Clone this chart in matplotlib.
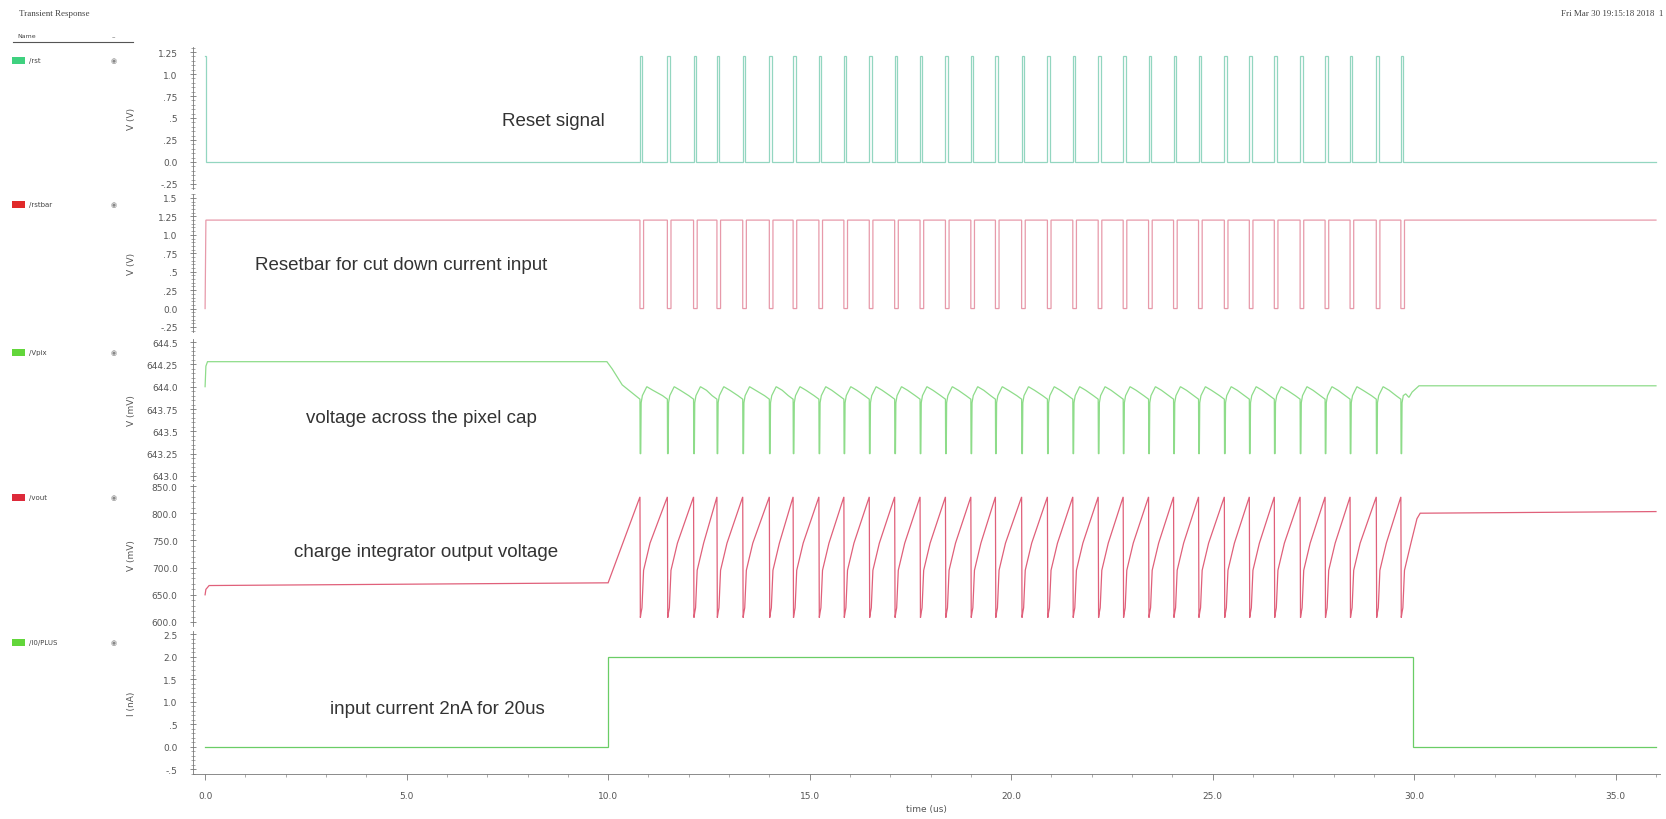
import matplotlib
matplotlib.use("Agg")
import matplotlib.pyplot as plt
from matplotlib.ticker import FixedLocator, AutoMinorLocator, MultipleLocator
from matplotlib.patches import Rectangle
from matplotlib.lines import Line2D

# ---------------- data ----------------
reset_times = [10.79, 11.47, 12.12, 12.70, 13.34, 14.00, 14.59, 15.23, 15.85, 16.48,
               17.11, 17.74, 18.37, 19.00, 19.61, 20.26, 20.90, 21.53, 22.16, 22.78,
               23.41, 24.03, 24.65, 25.29, 25.91, 26.53, 27.17, 27.79, 28.41, 29.06, 29.67]
t_end = 36.0
supply_v = 1.2            # reset / resetbar high level (V)

# pixel-cap voltage levels (mV)
vpix_start, vpix_idle = 644.0, 644.28
vpix_cycle_low, vpix_cycle_peak, vpix_spike = 643.86, 644.0, 643.25
vpix_final = 644.01

# integrator output levels (mV)
vout_start, vout_idle0, vout_idle1 = 650.0, 667.0, 672.0
vout_peak, vout_low, vout_knee, vout_mid = 830.0, 618.0, 695.0, 745.0
vout_final0, vout_final1 = 800.0, 803.0

# input current (nA)
i_on_value = 2.0
i_on_start, i_on_end = 10.0, 29.98

signal_names = ["/rst", "/rstbar", "/Vpix", "/vout", "/I0/PLUS"]
panel_texts = ["Reset signal", "Resetbar for cut down current input",
               "voltage across the pixel cap", "charge integrator output voltage",
               "input current 2nA for 20us"]
y_units = ["V (V)", "V (V)", "V (mV)", "V (mV)", "I (nA)"]
ytick_vals = [[1.25, 1.0, 0.75, 0.5, 0.25, 0.0, -0.25],
              [1.5, 1.25, 1.0, 0.75, 0.5, 0.25, 0.0, -0.25],
              [644.5, 644.25, 644.0, 643.75, 643.5, 643.25, 643.0],
              [850.0, 800.0, 750.0, 700.0, 650.0, 600.0],
              [2.5, 2.0, 1.5, 1.0, 0.5, 0.0, -0.5]]
ytick_labels = [["1.25", "1.0", ".75", ".5", ".25", "0.0", "-.25"],
                ["1.5", "1.25", "1.0", ".75", ".5", ".25", "0.0", "-.25"],
                ["644.5", "644.25", "644.0", "643.75", "643.5", "643.25", "643.0"],
                ["850.0", "800.0", "750.0", "700.0", "650.0", "600.0"],
                ["2.5", "2.0", "1.5", "1.0", ".5", "0.0", "-.5"]]
xtick_vals = [0, 5, 10, 15, 20, 25, 30, 35]
xtick_labels = ["0.0", "5.0", "10.0", "15.0", "20.0", "25.0", "30.0", "35.0"]

# ---------------- build waveforms from the read values ----------------
rst_w, rstb_w = 0.06, 0.09

t_rst, v_rst = [0.0, 0.03, 0.03], [supply_v, supply_v, 0.0]
for tk in reset_times:
    t_rst += [tk, tk, tk + rst_w, tk + rst_w]
    v_rst += [0.0, supply_v, supply_v, 0.0]
t_rst.append(t_end); v_rst.append(0.0)

t_rb, v_rb = [0.0, 0.02], [0.0, supply_v]
for tk in reset_times:
    t_rb += [tk, tk, tk + rstb_w, tk + rstb_w]
    v_rb += [supply_v, 0.0, 0.0, supply_v]
t_rb.append(t_end); v_rb.append(supply_v)

t_px = [0.0, 0.02, 0.06, 9.97, 10.1, 10.35, reset_times[0]]
v_px = [vpix_start, vpix_idle - 0.05, vpix_idle, vpix_idle, vpix_idle - 0.08, 644.02, vpix_cycle_low]
for k, tk in enumerate(reset_times):
    t_px += [tk + 0.005, tk + 0.02, tk + 0.03, tk + 0.06]
    v_px += [vpix_spike, vpix_spike, 643.82, 643.9]
    if k + 1 < len(reset_times):
        tn = reset_times[k + 1]
        t_px += [tk + 0.17, tk + 0.32, tn - 0.12, tn]
        v_px += [vpix_cycle_peak, 643.96, 643.9, vpix_cycle_low]
t_px += [tk + 0.12, tk + 0.2, tk + 0.28, tk + 0.45, t_end]
v_px += [643.92, 643.88, 643.94, vpix_final, vpix_final]

t_vo = [0.0, 0.02, 0.1, i_on_start, reset_times[0]]
v_vo = [vout_start, 660.0, vout_idle0, vout_idle1, vout_peak]
for k, tk in enumerate(reset_times):
    t_vo += [tk + 0.01, tk + 0.03, tk + 0.05, tk + 0.09, tk + 0.25]
    v_vo += [vout_low - 10, vout_low, vout_low + 8, vout_knee, vout_mid]
    if k + 1 < len(reset_times):
        tn = reset_times[k + 1]
        t_vo += [tn]
        v_vo += [vout_peak]
t_vo += [tk + 0.4, tk + 0.48, t_end]
v_vo += [790.0, vout_final0, vout_final1]

t_i = [0.0, i_on_start, i_on_start, i_on_end, i_on_end, t_end]
v_i = [0.0, 0.0, i_on_value, i_on_value, 0.0, 0.0]

series = [(t_rst, v_rst), (t_rb, v_rb), (t_px, v_px), (t_vo, v_vo), (t_i, v_i)]
line_colors = ["#93d6c0", "#e79aaa", "#8edc8a", "#e0607a", "#6acd66"]
legend_colors = ["#3fd17f", "#e02a2a", "#62d63a", "#dd2a3a", "#62d63a"]

# ---------------- layout ----------------
W, H = 1666, 820
fig = plt.figure(figsize=(W / 100, H / 100), dpi=100)
fig.patch.set_facecolor("white")

left_px, right_px = 193, 1660
panels_px = [(48, 190), (195, 333), (340, 482), (485, 627), (632, 775)]
ylims = [(-0.307, 1.307), (-0.318, 1.554), (642.944, 644.534), (592.6, 853.7), (-0.611, 2.567)]
text_pos = [(8.64, 0.47), (4.86, 0.60), (5.37, 643.66), (5.48, 730.5), (5.76, 0.84)]
xlim = (-0.3, 36.1)

axes = []
for i, (top, bot) in enumerate(panels_px):
    ax = fig.add_axes([left_px / W, 1 - bot / H, (right_px - left_px) / W, (bot - top) / H])
    ax.set_facecolor("none")
    tx, ty = series[i]
    ax.plot(tx, ty, color=line_colors[i], lw=0.9, solid_joinstyle="miter")
    ax.set_xlim(*xlim)
    ax.set_ylim(*ylims[i])
    for s in ["top", "right", "bottom"]:
        ax.spines[s].set_visible(False)
    ax.spines["left"].set_color("#777777")
    ax.spines["left"].set_linewidth(0.6)
    ax.yaxis.set_major_locator(FixedLocator(ytick_vals[i]))
    ax.set_yticklabels(ytick_labels[i])
    ax.yaxis.set_minor_locator(AutoMinorLocator(5))
    ax.tick_params(axis="y", which="major", direction="inout", length=4, width=0.6,
                   color="#777777", labelsize=6.5, labelcolor="#555555", pad=9)
    ax.tick_params(axis="y", which="minor", direction="inout", length=2.5, width=0.5,
                   color="#888888")
    ax.set_ylabel(y_units[i], fontsize=6.5, color="#555555", labelpad=2)
    ax.yaxis.set_label_coords(-0.039, 0.5)
    if i < 4:
        ax.tick_params(axis="x", which="both", bottom=False, labelbottom=False)
    else:
        ax.spines["bottom"].set_visible(True)
        ax.spines["bottom"].set_color("#777777")
        ax.spines["bottom"].set_linewidth(0.6)
        ax.xaxis.set_major_locator(FixedLocator(xtick_vals))
        ax.set_xticklabels(xtick_labels)
        ax.xaxis.set_minor_locator(MultipleLocator(1))
        ax.tick_params(axis="x", which="major", direction="out", length=4, width=0.6,
                       color="#777777", labelsize=6.5, labelcolor="#555555", pad=8)
        ax.tick_params(axis="x", which="minor", direction="out", length=2, width=0.5,
                       color="#888888")
        ax.set_xlabel("time (us)", fontsize=6.5, color="#555555", labelpad=3)
    ax.text(text_pos[i][0], text_pos[i][1], panel_texts[i], ha="center", va="center",
            fontsize=13.5, color="#333333", family="Liberation Sans")
    axes.append(ax)

# ---------------- left legend panel & header ----------------
fig.text(19 / W, 1 - 14 / H, "Transient Response", fontsize=6.5, color="#444444",
         family="Liberation Serif", va="center", ha="left")
fig.text(1663 / W, 1 - 14 / H, "Fri Mar 30 19:15:18 2018  1", fontsize=6.5, color="#444444",
         family="Liberation Serif", va="center", ha="right")
fig.text(17 / W, 1 - 36 / H, "Name", fontsize=4.5, color="#444444", va="center", ha="left")
fig.text(112 / W, 1 - 37 / H, "–", fontsize=5, color="#666666", va="center", ha="left")
fig.add_artist(Line2D([13 / W, 133 / W], [1 - 43 / H, 1 - 43 / H], color="#555555", lw=0.8))
entry_y = [61, 205, 353, 498, 643]
for name, col, yy in zip(signal_names, legend_colors, entry_y):
    fig.add_artist(Rectangle((12 / W, 1 - (yy + 3.5) / H), 13 / W, 7 / H,
                             facecolor=col, edgecolor="none"))
    fig.text(29 / W, 1 - yy / H, name, fontsize=5, color="#444444", va="center", ha="left")
    fig.text(114 / W, 1 - yy / H, "◉", fontsize=5, color="#888888", va="center", ha="center")

fig.savefig("out.png", dpi=100, facecolor="white")
